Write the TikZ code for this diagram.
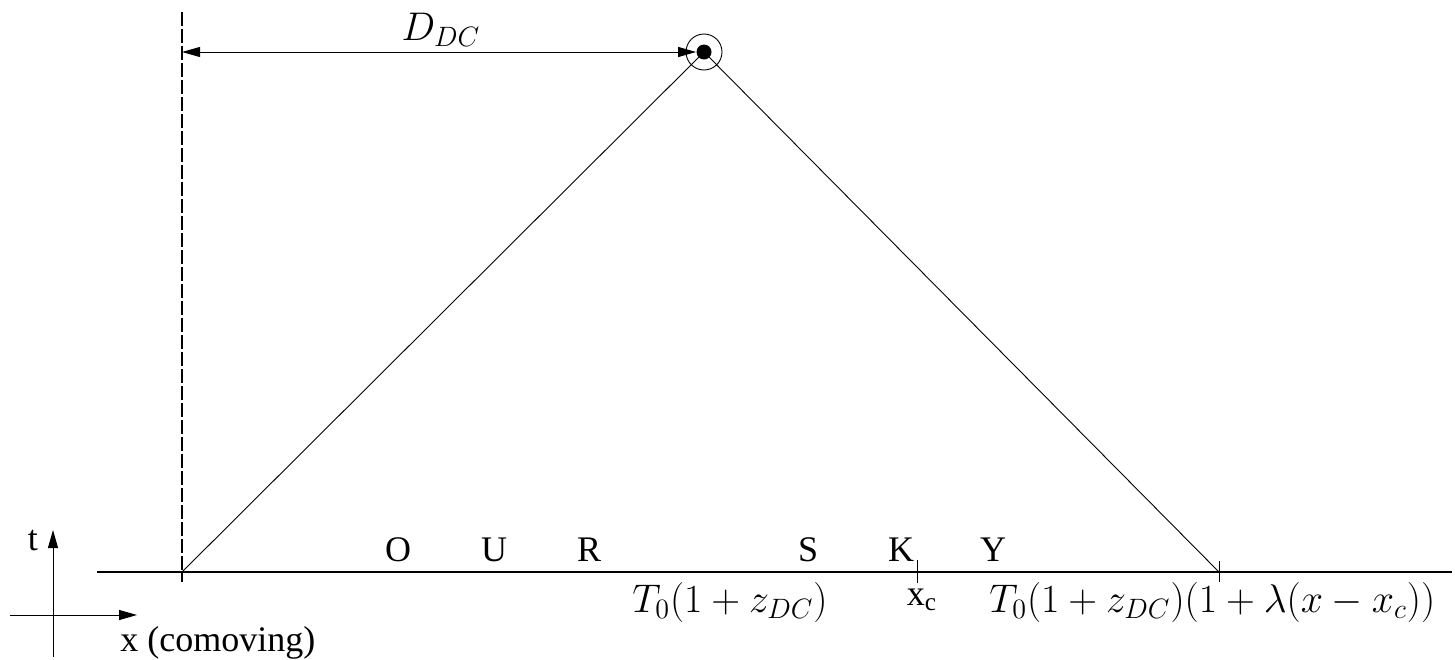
\RequirePackage{fix-cm}
\documentclass[tikz,border=0pt]{standalone}
\usepackage[no-math]{fontspec}
\setmainfont{Liberation Serif}
\usepackage{tikz}
\usetikzlibrary{arrows.meta,positioning,calc}
\tikzset{
  thin/.style={line width=.45pt},
  axis/.style={line width=.6pt},
  ar/.style={-{Triangle[length=9pt,width=5pt]}, line width=.5pt},
  dar/.style={{Triangle[length=9pt,width=5pt]}-{Triangle[length=9pt,width=5pt]}, line width=.5pt},
  wall/.style={line width=.6pt, dash pattern=on 7pt off 1.5pt},
  lbl/.style={font=\fontsize{18}{21}\selectfont, inner sep=0pt},
  mlbl/.style={font=\fontsize{20}{24}\selectfont, inner sep=0pt},
}

\begin{document}
\begin{tikzpicture}[x=.5pt,y=-.5pt]
    \useasboundingbox (0,0) rectangle (1455,659);
    % sky line and observer wall
    \coordinate (axl) at (97,572);
    \coordinate (axr) at (1452,572);
    \coordinate (o) at (182,572);
    \coordinate (dtop) at (182,12);
    \coordinate (dbot) at (182,582);
    \coordinate (dl) at (182,52);
    \coordinate (xc) at (917,572);
    \coordinate (e) at (1219,572);
    \draw[axis] (axl)--(axr);
    \draw[wall] (dtop)--(dbot);
    % source
    \node[circle, fill, inner sep=0pt, minimum size=7.5pt] (src) at (704,52) {};
    \node[circle, draw, thin, inner sep=0pt, minimum size=18pt] (ring) at (src) {};
    \draw[thin] (o)--(src.center);
    \draw[thin] (src.center)--(e);
    \draw[dar] (dl)--(src.west);
    \node[mlbl, anchor=base] (ddc) at (441,40) {$D_{DC}$};
    % ticks
    \draw[thin] (xc) ++(0,-12) -- ++(0,23);
    \draw[thin] (e) ++(0,-11) -- ++(0,21);
    % OUR SKY
    \foreach \ch/\px in {O/398,U/494,R/589,S/808,K/901,Y/993}
      \node[lbl, anchor=base] (l\ch) at (\px,561) {\ch};
    \node[mlbl, anchor=base] (t1) at (730,612) {$T_0(1+z_{DC})$};
    \node[lbl, anchor=base] (xcl) at (922,605) {x\textsubscript{c}};
    \node[mlbl, anchor=base west] (t2) at (989,612) {$T_0(1+z_{DC})(1+\lambda(x-x_c))$};
    % frame axes
    \coordinate (tb) at (53,657);
    \coordinate (tt) at (53,530);
    \coordinate (xb) at (10,615);
    \coordinate (xt) at (137,615);
    \draw[ar] (tb)--(tt);
    \draw[ar] (xb)--(xt);
    \node[lbl, anchor=base] (tl) at (33,550) {t};
    \node[lbl, anchor=base west] (xl) at (120,651) {x (comoving)};
\end{tikzpicture}
\end{document}
